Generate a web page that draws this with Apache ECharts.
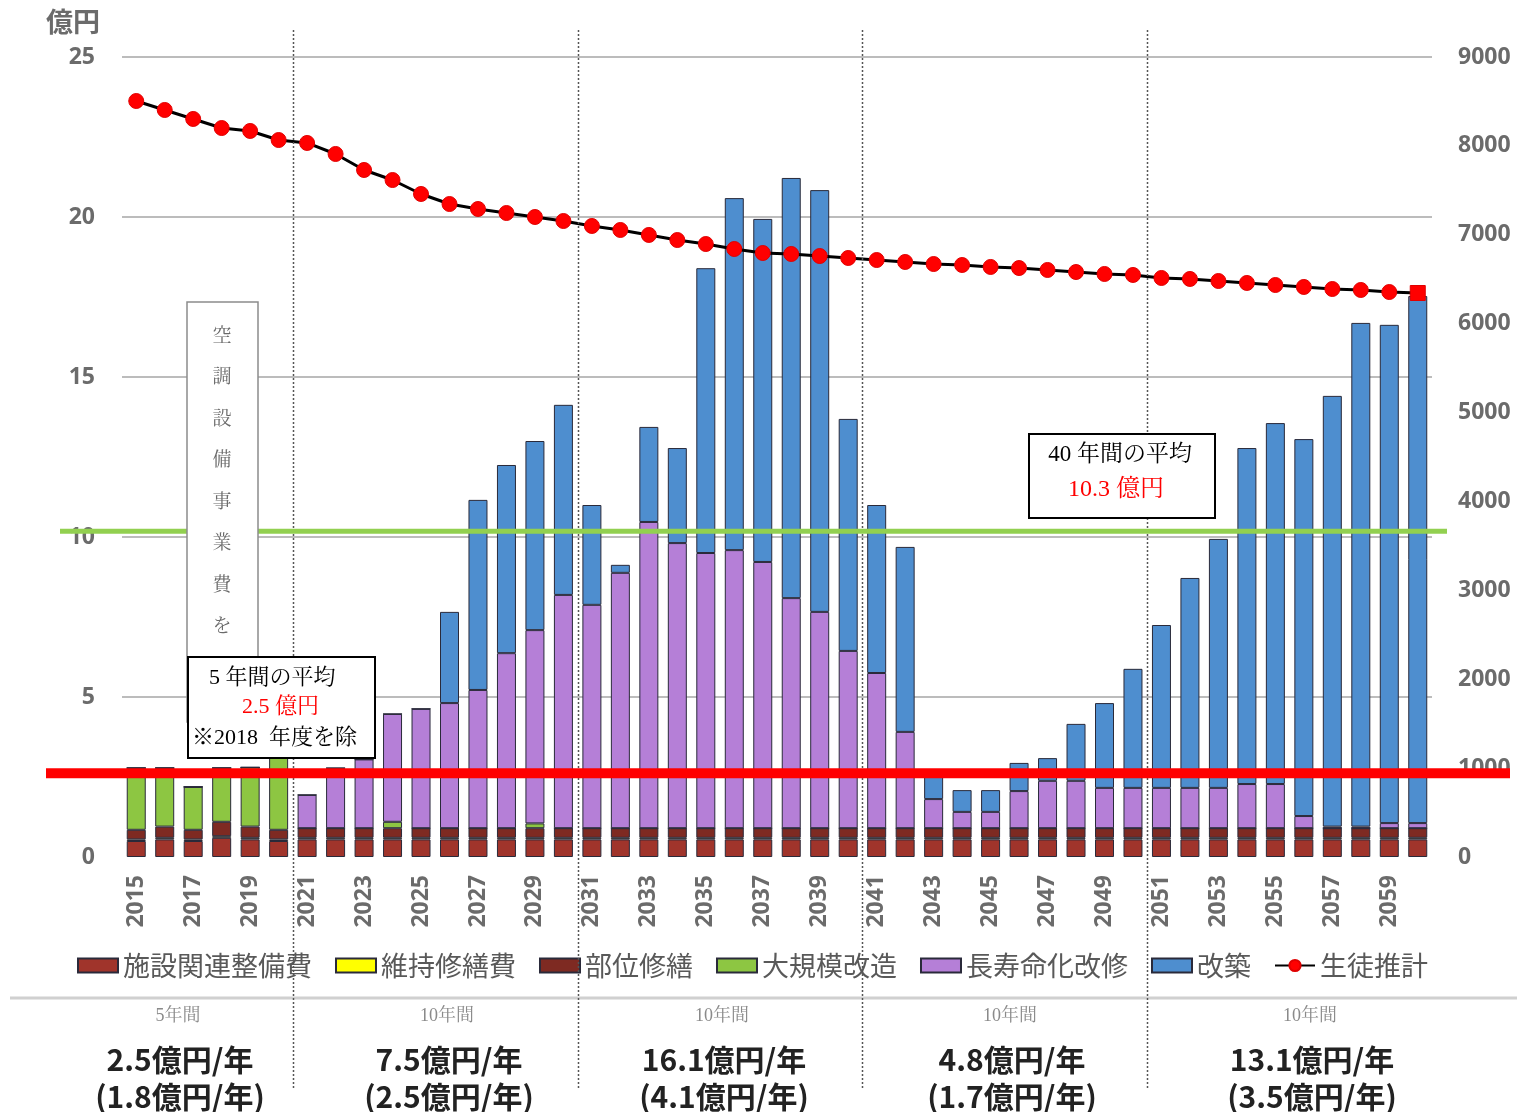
<!DOCTYPE html>
<html><head><meta charset="utf-8">
<script src="https://cdn.jsdelivr.net/npm/echarts/dist/echarts.min.js"></script>
<style>html,body{margin:0;padding:0;background:#fff}#chart{width:1517px;height:1112px}</style>
</head><body><div id="chart"></div>
<script>
const years = ['2015','2016','2017','2018','2019','2020','2021','2022','2023','2024','2025','2026','2027','2028','2029','2030','2031','2032','2033','2034','2035','2036','2037','2038','2039','2040','2041','2042','2043','2044','2045','2046','2047','2048','2049','2050','2051','2052','2053','2054','2055','2056','2057','2058','2059','2060'];
// 億円
const shisetsu = [0.5,0.55,0.5,0.6,0.55,0.5, 0.55,0.55,0.55,0.55,0.55,0.55,0.55,0.55,0.55,0.55, 0.55,0.55,0.55,0.55,0.55,0.55,0.55,0.55,0.55,0.55, 0.55,0.55,0.55,0.55,0.55,0.55,0.55,0.55,0.55,0.55, 0.55,0.55,0.55,0.55,0.55,0.55,0.55,0.55,0.55,0.55];
const iji = [0.05,0.05,0.05,0.05,0.05,0.05, 0.05,0.05,0.05,0.05,0.05,0.05,0.05,0.05,0.05,0.05, 0.05,0.05,0.05,0.05,0.05,0.05,0.05,0.05,0.05,0.05, 0.05,0.05,0.05,0.05,0.05,0.05,0.05,0.05,0.05,0.05, 0.05,0.05,0.05,0.05,0.05,0.05,0.05,0.05,0.05,0.05];
const bui = [0.3,0.35,0.3,0.45,0.35,0.3, 0.3,0.3,0.3,0.3,0.3,0.3,0.3,0.3,0.3,0.3, 0.3,0.3,0.3,0.3,0.3,0.3,0.3,0.3,0.3,0.3, 0.3,0.3,0.3,0.3,0.3,0.3,0.3,0.3,0.3,0.3, 0.3,0.3,0.3,0.3,0.3,0.3,0.3,0.3,0.3,0.3];
const daikibo = [1.93,1.83,1.34,1.68,1.85,2.65, 0,0,0,0.2,0,0,0,0,0.15,0, 0,0,0,0,0,0,0,0,0,0, 0,0,0,0,0,0,0,0,0,0, 0,0,0,0,0,0,0,0,0,0];
const chouju = [0,0,0,0,0,0, 1.04,1.88,2.15,3.37,3.73,3.91,4.32,5.47,6.04,7.29, 6.98,7.98,9.57,8.91,8.6,8.69,8.32,7.19,6.76,5.54, 4.85,3.01,0.91,0.51,0.51,1.16,1.48,1.48,1.26,1.26, 1.26,1.26,1.26,1.38,1.38,0.38,0.05,0.05,0.16,0.16];
const kaichiku = [0,0,0,0,0,0, 0,0,0,0,0,2.85,5.94,5.88,5.91,5.94, 3.12,0.25,2.97,2.97,8.9,11.0,10.72,13.13,13.18,7.25, 5.25,5.78,0.69,0.68,0.68,0.88,0.71,1.78,2.65,3.72, 5.09,6.56,7.78,10.5,11.28,11.78,13.46,15.74,15.57,16.47];
// 人
const students = [8505,8404,8303,8201,8168,8066,8033,7909,7729,7616,7459,7346,7290,7245,7200,7155,7099,7054,6998,6941,6896,6840,6795,6784,6761,6739,6716,6694,6671,6660,6638,6626,6604,6581,6559,6548,6514,6503,6480,6458,6435,6413,6390,6379,6356,6345];
const seriesNames = ['施設関連整備費','維持修繕費','部位修繕','大規模改造','長寿命化改修','改築','生徒推計'];
const leftAxis = {min:0, max:25, interval:5, name:'億円'};
const rightAxis = {min:0, max:9000, interval:1000};
const avgLineValues = [10.18, 2.62];
const periodBoundaryIdx = [5,15,25,35];
const periodNames = ['5年間','10年間','10年間','10年間','10年間'];
const periodAvg = ['2.5億円/年','7.5億円/年','16.1億円/年','4.8億円/年','13.1億円/年'];
const periodSub = ['(1.8億円/年)','(2.5億円/年)','(4.1億円/年)','(1.7億円/年)','(3.5億円/年)'];
const box5 = ['5 年間の平均','2.5 億円','※2018  年度を除'];
const box40 = ['40 年間の平均','10.3 億円'];
const vertText = '空調設備事業費を除く';

const colors = ['#A0342B','#FFFF00','#7E2A22','#8DC642','#B57FD7','#4E8ECF'];
const barData = [shisetsu, iji, bui, daikibo, chouju, kaichiku];

const chart = echarts.init(document.getElementById('chart'));
const axisFont = {fontSize:23, fontWeight:'bold', color:'#6b6b6b', fontFamily:'"Open Sans", "Noto Sans CJK JP", sans-serif'};
const series = barData.map((d,i)=>({
  name: seriesNames[i], type:'bar', stack:'total', barWidth:19, data:d,
  itemStyle:{color:colors[i], borderColor:'#2a2a3a', borderWidth:1},
  emphasis:{disabled:true}
}));
series.push({
  name: seriesNames[6], type:'line', yAxisIndex:1,
  data: students.map((v,i)=> i===students.length-1 ? {value:v, symbol:'rect'} : v),
  symbol:'circle', symbolSize:15,
  lineStyle:{color:'#000', width:3},
  itemStyle:{color:'#FF0000', borderColor:'#E00000', borderWidth:1},
  z:5
});
const option = {
  animation:false,
  grid:{left:122, right:85, top:57, bottom:255, containLabel:false},
  legend:{
    left:72, top:947, itemWidth:40, itemHeight:14, itemGap:23,
    textStyle:{fontSize:27, color:'#595959', fontFamily:'"Noto Sans CJK JP", sans-serif'},
    data: seriesNames.map((n,i)=> i<6 ? {name:n, icon:'rect'} : {name:n})
  },
  xAxis:{type:'category', data:years,
    axisLine:{show:false}, axisTick:{show:false},
    axisLabel:Object.assign({interval:1, rotate:90, margin:18}, axisFont)},
  yAxis:[
    {type:'value', min:leftAxis.min, max:leftAxis.max, interval:leftAxis.interval,
     name:leftAxis.name, nameLocation:'end', nameGap:22,
     nameTextStyle:{fontSize:27, fontWeight:'bold', color:'#6b6b6b', align:'right', padding:[0,22,0,0], fontFamily:'"Noto Sans CJK JP", sans-serif'},
     axisLine:{show:false}, axisTick:{show:false},
     axisLabel:Object.assign({margin:27}, axisFont),
     splitLine:{show:true, showMinLine:false, lineStyle:{color:'#a6a6a6', width:1.5}}},
    {type:'value', min:rightAxis.min, max:rightAxis.max, interval:rightAxis.interval, position:'right',
     axisLine:{show:false}, axisTick:{show:false},
     axisLabel:Object.assign({margin:26, formatter:(v)=>String(v)}, axisFont),
     splitLine:{show:false}}
  ],
  series: series
};
chart.setOption(option);

const serif = '"Liberation Serif", "Noto Serif CJK JP", "Noto Sans CJK JP", serif';
const g = [];
// period boundaries (dotted)
periodBoundaryIdx.forEach(i=>{
  const x = Math.round((chart.convertToPixel({xAxisIndex:0}, years[i]) + chart.convertToPixel({xAxisIndex:0}, years[i+1]))/2) + 0.5;
  g.push({type:'line', z:50, silent:true, shape:{x1:x,y1:30,x2:x,y2:1090}, style:{stroke:'#555', lineWidth:1.5, lineDash:[2,2]}});
});
// average lines
const yG = chart.convertToPixel({yAxisIndex:0}, avgLineValues[0]);
const yR = chart.convertToPixel({yAxisIndex:0}, avgLineValues[1]);
g.push({type:'line', z:60, shape:{x1:60,y1:yG,x2:1447,y2:yG}, style:{stroke:'#92D050', lineWidth:5}});
g.push({type:'line', z:60, shape:{x1:46,y1:yR,x2:1510,y2:yR}, style:{stroke:'#FF0000', lineWidth:10}});
// vertical note box
g.push({type:'rect', z:70, shape:{x:187,y:302,width:71,height:420}, style:{fill:'#fff', stroke:'#8c8c8c', lineWidth:1.5}});
g.push({type:'text', z:71, style:{text:vertText.split('').join('\n'), x:222, y:316, align:'center', verticalAlign:'top', lineHeight:41.5, fontSize:19, fill:'#6a6a6a', fontFamily:serif}});
// 5-year box
g.push({type:'rect', z:72, shape:{x:188,y:657,width:187,height:101}, style:{fill:'#fff', stroke:'#000', lineWidth:2}});
g.push({type:'text', z:73, style:{text:box5[0], x:209, y:678, verticalAlign:'middle', fontSize:22, fill:'#000', fontFamily:serif}});
g.push({type:'text', z:73, style:{text:box5[1], x:242, y:707, verticalAlign:'middle', fontSize:22, fill:'#FF0000', fontFamily:serif}});
g.push({type:'text', z:73, style:{text:box5[2], x:192, y:738, verticalAlign:'middle', fontSize:22, fill:'#000', fontFamily:serif}});
// 40-year box
g.push({type:'rect', z:72, shape:{x:1029,y:434,width:186,height:84}, style:{fill:'#fff', stroke:'#000', lineWidth:2}});
g.push({type:'text', z:73, style:{text:box40[0], x:1120, y:455, align:'center', verticalAlign:'middle', fontSize:23, fill:'#000', fontFamily:serif}});
g.push({type:'text', z:73, style:{text:box40[1], x:1116, y:490, align:'center', verticalAlign:'middle', fontSize:24, fill:'#FF0000', fontFamily:serif}});
// separator
g.push({type:'line', z:40, shape:{x1:10,y1:998,x2:1517,y2:998}, style:{stroke:'#d0d0d0', lineWidth:3}});
// period summaries
const centers = [178, 447, 722, 1010, 1310];
centers.forEach((cx,i)=>{
  g.push({type:'text', z:45, style:{text:periodNames[i], x:cx, y:1016, align:'center', verticalAlign:'middle', fontSize:18, fill:'#8a8a8a', fontFamily:serif}});
  g.push({type:'text', z:45, style:{text:periodAvg[i], x:cx+2, y:1060, align:'center', verticalAlign:'middle', fontSize:30, fontWeight:'bold', fill:'#222', fontFamily:'"Noto Sans CJK JP", sans-serif'}});
  g.push({type:'text', z:45, style:{text:periodSub[i], x:cx+2, y:1097, align:'center', verticalAlign:'middle', fontSize:30, fontWeight:'bold', fill:'#222', fontFamily:'"Noto Sans CJK JP", sans-serif'}});
});
chart.setOption({graphic:{elements:g}});
</script>
</body></html>
